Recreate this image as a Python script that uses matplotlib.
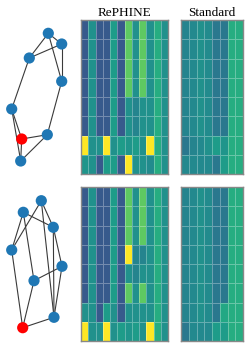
import numpy as np
import matplotlib.pyplot as plt

# graph layouts (x, y) with y pointing down, and edges
top_nodes = [(48.3, 33.3), (61.7, 44.0), (29.3, 58.0), (61.7, 81.3),
             (11.7, 109.0), (21.7, 139.0), (47.3, 134.7), (20.7, 161.0)]
top_edges = [(0, 1), (0, 2), (2, 1), (0, 3), (1, 3), (2, 4), (4, 5), (4, 7),
             (5, 6), (6, 7), (3, 6), (5, 7)]
top_red = 5

bot_nodes = [(41.3, 200.7), (23.3, 212.3), (53.3, 227.3), (11.7, 250.0),
             (62.0, 266.3), (34.0, 280.7), (54.0, 317.3), (22.7, 327.7)]
bot_edges = [(0, 2), (0, 3), (0, 6), (1, 2), (1, 3), (1, 5), (2, 4), (2, 6),
             (3, 7), (4, 5), (4, 6), (5, 7), (6, 7)]
bot_red = 7

# heatmap values (viridis scale 0..1)
D, T, G, L, Y, M, S = 0.28, 0.50, 0.55, 0.75, 1.0, 0.62, 0.45
reph_base = [D, T, D, D, G, D, L, T, L, T, M, T]
reph_mid = [D, T, D, D, G, D, T, S, T, T, M, T]
reph_top = [
    reph_base, reph_base, reph_base, reph_base,
    reph_mid, reph_mid,
    [Y, T, T, Y, T, G, 0.52, G, T, Y, M, T],
    [0.52, T, D, G, G, D, Y, T, T, 0.48, M, T],
]
reph_bot = [
    reph_base, reph_base, reph_base,
    [D, T, D, D, G, D, Y, S, S, T, M, T],
    reph_mid,
    reph_base,
    [T, T, D, G, T, D, T, T, T, T, M, T],
    [Y, T, T, Y, T, G, 0.52, G, T, Y, M, T],
]
std_base = [0.45, 0.47, 0.50, 0.48, 0.40, 0.40, 0.62, 0.62]
std_top = [std_base] * 6 + [
    [0.40, 0.45, 0.47, 0.50, 0.55, 0.52, 0.62, 0.62],
    [0.47, 0.47, 0.47, 0.47, 0.40, 0.55, 0.62, 0.62],
]
std_bot = [std_base] * 6 + [
    [0.45, 0.47, 0.50, 0.48, 0.40, 0.60, 0.62, 0.62],
    [0.40, 0.47, 0.47, 0.47, 0.55, 0.55, 0.62, 0.62],
]

W, H = 249, 348
fig = plt.figure(figsize=(W / 100, H / 100), dpi=100)


def draw_graph(ax, nodes, edges, red):
    xy = np.array(nodes)
    for a, b in edges:
        ax.plot(xy[[a, b], 0], xy[[a, b], 1], color='#3a3a3a', lw=0.8, zorder=1)
    colors = ['red' if i == red else '#1f77b4' for i in range(len(nodes))]
    ax.scatter(xy[:, 0], xy[:, 1], s=65, c=colors, zorder=2, linewidths=0)


def draw_heat(rect, data, title=None):
    ax = fig.add_axes(rect)
    ax.pcolormesh(np.array(data), cmap='viridis', vmin=0, vmax=1,
                  edgecolors=(1, 1, 1, 0.3), linewidth=0.5)
    ax.invert_yaxis()
    ax.set_xticks([])
    ax.set_yticks([])
    for sp in ax.spines.values():
        sp.set_color('#888888')
        sp.set_linewidth(1.0)
    if title:
        ax.set_title(title, family='Liberation Serif', fontsize=9.5, pad=3)
    return ax


gax = fig.add_axes([0, 0, 75 / W, 1])
gax.set_xlim(0, 75)
gax.set_ylim(H, 0)
gax.axis('off')
draw_graph(gax, top_nodes, top_edges, top_red)
draw_graph(gax, bot_nodes, bot_edges, bot_red)

hh = 154 / H
draw_heat([81 / W, 1 - 174 / H, 87 / W, hh], reph_top, 'RePHINE')
draw_heat([181 / W, 1 - 174 / H, 62 / W, hh], std_top, 'Standard')
draw_heat([81 / W, 1 - 341 / H, 87 / W, hh], reph_bot)
draw_heat([181 / W, 1 - 341 / H, 62 / W, hh], std_bot)

fig.savefig('out.png', dpi=100)
